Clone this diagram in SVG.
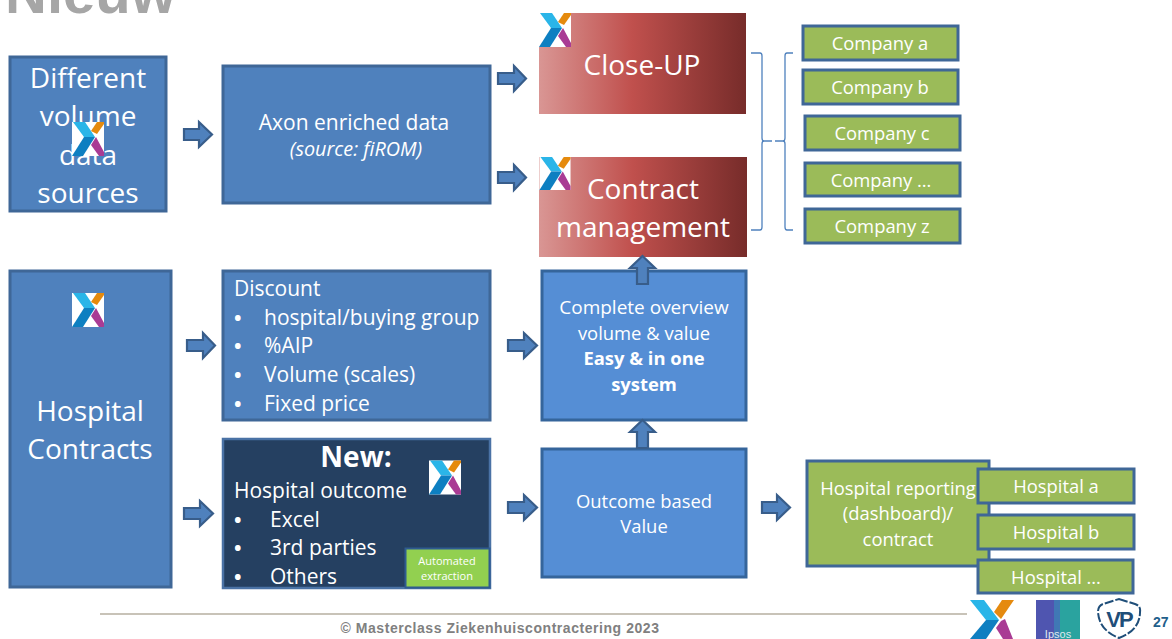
<svg xmlns="http://www.w3.org/2000/svg" width="1172" height="639" viewBox="0 0 1172 639">
<style>
text{font-family:"Open Sans","Noto Sans",sans-serif;fill:#fff}
.m{text-anchor:middle}
.b{fill:#4f81bd;stroke:#3f6797;stroke-width:3}
.l{fill:#558ed5;stroke:#35659b;stroke-width:3}
.g{fill:#9bbb59;stroke:#3f6797;stroke-width:3}
.a{fill:#4f81bd;stroke:#385d8a;stroke-width:2.2}
.br{fill:none;stroke:#4f81bd;stroke-width:1.3}
.t28{font-size:28px}.t21{font-size:21px}.t18{font-size:18.400px}.t19{font-size:19px}
.d{font-size:20px;font-weight:bold}
</style>
<defs>
<linearGradient id="red"><stop offset="0" stop-color="#d99694"/><stop offset=".45" stop-color="#c0504d"/><stop offset="1" stop-color="#772c2a"/></linearGradient>
<filter id="soft" x="-5%" y="-5%" width="110%" height="110%"><feGaussianBlur stdDeviation=".6"/></filter>
<symbol id="logo" viewBox="0 0 32 34">
<rect width="32" height="34" fill="#fff"/>
<g filter="url(#soft)">
<path d="M1 0H13L23 15H12Z" fill="#29b5e8"/>
<path d="M12 15H23L11 34H0Z" fill="#0f7fc1"/>
<path d="M19 9L25 0H32V2L25 12Z" fill="#e58a0f"/>
<path d="M19 23L24 15L32 30V34H27Z" fill="#a93b94"/>
</g>
</symbol>
</defs>
<text id="title" x="5" y="13" style="font-family:'Liberation Sans',sans-serif;font-size:58px;font-weight:bold;fill:#a6a6a6">Nieuw</text>
<g id="n1"><rect class="b" x="10" y="57" width="156" height="154"/>
<text class="m t28" x="88" y="88">Different</text><text class="m t28" x="88" y="126">volume</text><text class="m t28" x="88" y="165">data</text><text class="m t28" x="88" y="203">sources</text>
<use href="#logo" x="72" y="122" width="32" height="34"/></g>
<g id="n2"><rect class="b" x="223" y="66" width="267" height="137"/>
<text class="m t21" x="354" y="130">Axon enriched data</text><text class="m" x="356" y="156" font-style="italic" style="font-size:19.800px">(source: fiROM)</text></g>
<g id="n3"><rect x="539" y="13" width="207" height="101" fill="url(#red)"/>
<use href="#logo" x="539" y="13" width="32" height="34"/>
<text class="m t28" x="642" y="75">Close-UP</text></g>
<g id="n4"><rect x="539" y="157" width="208" height="100" fill="url(#red)"/>
<use href="#logo" x="539" y="157" width="32" height="33"/>
<text class="m t28" x="643" y="199">Contract</text><text class="m t28" x="643" y="237">management</text></g>
<g id="n5"><rect class="g" x="803" y="26" width="155" height="34"/><text class="m t18" x="880" y="50">Company a</text></g>
<g id="n6"><rect class="g" x="803" y="70" width="155" height="34"/><text class="m t18" x="880" y="94">Company b</text></g>
<g id="n7"><rect class="g" x="805" y="116" width="155" height="34"/><text class="m t18" x="882" y="140">Company c</text></g>
<g id="n8"><rect class="g" x="805" y="163" width="155" height="33"/><text class="m t18" x="881" y="187">Company …</text></g>
<g id="n9"><rect class="g" x="805" y="209" width="155" height="34"/><text class="m t18" x="882" y="233">Company z</text></g>
<g id="n10"><rect class="b" x="10" y="271" width="161" height="316"/>
<use href="#logo" x="72" y="293" width="32" height="34"/>
<text class="m t28" x="90" y="421">Hospital</text><text class="m t28" x="90" y="459">Contracts</text></g>
<g id="n11"><rect class="b" x="223" y="271" width="267" height="149"/>
<text class="t21" x="234" y="296">Discount</text>
<text class="d" x="234" y="325">•</text><text class="t21" x="264" y="325">hospital/buying group</text>
<text class="d" x="234" y="353">•</text><text class="t21" x="264" y="353">%AIP</text>
<text class="d" x="234" y="382">•</text><text class="t21" x="264" y="382">Volume (scales)</text>
<text class="d" x="234" y="411">•</text><text class="t21" x="264" y="411">Fixed price</text></g>
<g id="n12"><rect class="l" x="542" y="271" width="204" height="149"/>
<text class="m t19" x="644" y="314">Complete overview</text><text class="m t18" x="644" y="340">volume &amp; value</text>
<text class="m t18" x="644" y="365" font-weight="bold">Easy &amp; in one</text><text class="m t18" x="644" y="391" font-weight="bold">system</text></g>
<g id="n13"><rect x="223" y="439" width="267" height="149" fill="#254061" stroke="#4a72a5" stroke-width="2.500"/>
<text class="m" x="356" y="467" font-size="28" font-weight="bold">New:</text>
<text class="t21" x="234" y="498">Hospital outcome</text>
<text class="d" x="234" y="527">•</text><text class="t21" x="270" y="527">Excel</text>
<text class="d" x="234" y="555">•</text><text class="t21" x="270" y="555">3rd parties</text>
<text class="d" x="234" y="584">•</text><text class="t21" x="270" y="584">Others</text>
<use href="#logo" x="429" y="460" width="32" height="35"/></g>
<g id="n14"><rect x="405.500" y="548.500" width="84" height="39" fill="#92d050" stroke="#2f5b8f" stroke-width="2"/>
<text class="m" x="447" y="565" font-size="11">Automated</text><text class="m" x="447" y="580" font-size="11">extraction</text></g>
<g id="n15"><rect class="l" x="542" y="449" width="204" height="128"/>
<text class="m t18" x="644" y="508">Outcome based</text><text class="m t18" x="644" y="533">Value</text></g>
<g id="n16"><rect class="g" x="807" y="461" width="182" height="105"/>
<text class="m t18" x="898" y="495">Hospital reporting</text><text class="m t18" x="898" y="520">(dashboard)/</text><text class="m t18" x="898" y="546">contract</text></g>
<g id="n17"><rect class="g" x="978" y="469" width="156" height="34"/><text class="m t18" x="1056" y="493">Hospital a</text></g>
<g id="n18"><rect class="g" x="978" y="515" width="156" height="34"/><text class="m t18" x="1056" y="539">Hospital b</text></g>
<g id="n19"><rect class="g" x="978" y="560" width="155" height="33"/><text class="m t18" x="1056" y="584">Hospital …</text></g>
<g id="connectors">
<path class="a" d="M184 129H199V122L212 134.500L199 147V140H184Z"/>
<path class="a" d="M498 73H514V66L526 78.500L514 91V84H498Z"/>
<path class="a" d="M498 172H514V165L526 177.500L514 190V183H498Z"/>
<path class="a" d="M187 340H203V333L215 345.500L203 358V351H187Z"/>
<path class="a" d="M508 340H524V333L537 345.500L524 358V351H508Z"/>
<path class="a" d="M184 508H200V501L213 513.500L200 526V519H184Z"/>
<path class="a" d="M508 502H524V495L537 507.500L524 520V513H508Z"/>
<path class="a" d="M762 502H777V495L790 507.500L777 520V513H762Z"/>
<path class="a" d="M637 284V268H630L642.500 256L655 268H648V284Z"/>
<path class="a" d="M637 448V432H630L642.500 420L655 432H648V448Z"/>
<path class="br" d="M751 53H760Q762 53 762 56V138Q762 141 764 141H772M751 230H760Q762 230 762 227V144Q762 141 764 141H772"/>
<path class="br" d="M793 53H787Q785 53 785 56V138Q785 141 783 141H775M793 230H787Q785 230 785 227V144Q785 141 783 141H775"/>
</g>
<g id="footer">
<path d="M100 614H967" stroke="#c8c3b8" stroke-width="2" fill="none"/>
<text class="m" x="500" y="633" style="font-family:'Liberation Sans',sans-serif;font-size:14px;letter-spacing:.55px;font-weight:bold;fill:#808080">© Masterclass Ziekenhuiscontractering 2023</text>
<g id="logo-x"><path d="M970 600H984L999 620H986Z" fill="#29b5e8"/><path d="M986 620H999L986 639H970Z" fill="#0f7fc1"/><path d="M994 612L1002 600H1014L1001 619Z" fill="#e58a0f"/><path d="M1001 621L1005 619L1013 639H1003L996 628Z" fill="#a93b94"/></g>
<g id="logo-ipsos"><g filter="url(#soft)"><rect x="1036" y="600" width="44" height="39" fill="#3f78b5"/><rect x="1036" y="600" width="18" height="39" fill="#4f55b0"/><rect x="1060" y="600" width="20" height="39" fill="#2ba39f"/></g>
<text class="m" x="1058" y="638" style="font-family:'Liberation Sans',sans-serif;font-size:11px;fill:#dfe8ee">Ipsos</text></g>
<g id="logo-vp"><path d="M1119 599L1135 604Q1141 606 1140 612Q1140 630 1119 638Q1099 630 1098 612Q1098 606 1103 604Z" fill="#fff" stroke="#1f4e79" stroke-width="2" stroke-dasharray="9 2"/>
<text class="m" x="1119" y="627" style="font-family:'Liberation Sans',sans-serif;font-size:22px;font-weight:bold;letter-spacing:-2px;fill:#1f4e79">VP</text></g>
<text x="1153" y="627" style="font-family:'Liberation Sans',sans-serif;font-size:14px;font-weight:bold;fill:#1f5f8b">27</text>
</g>
</svg>
